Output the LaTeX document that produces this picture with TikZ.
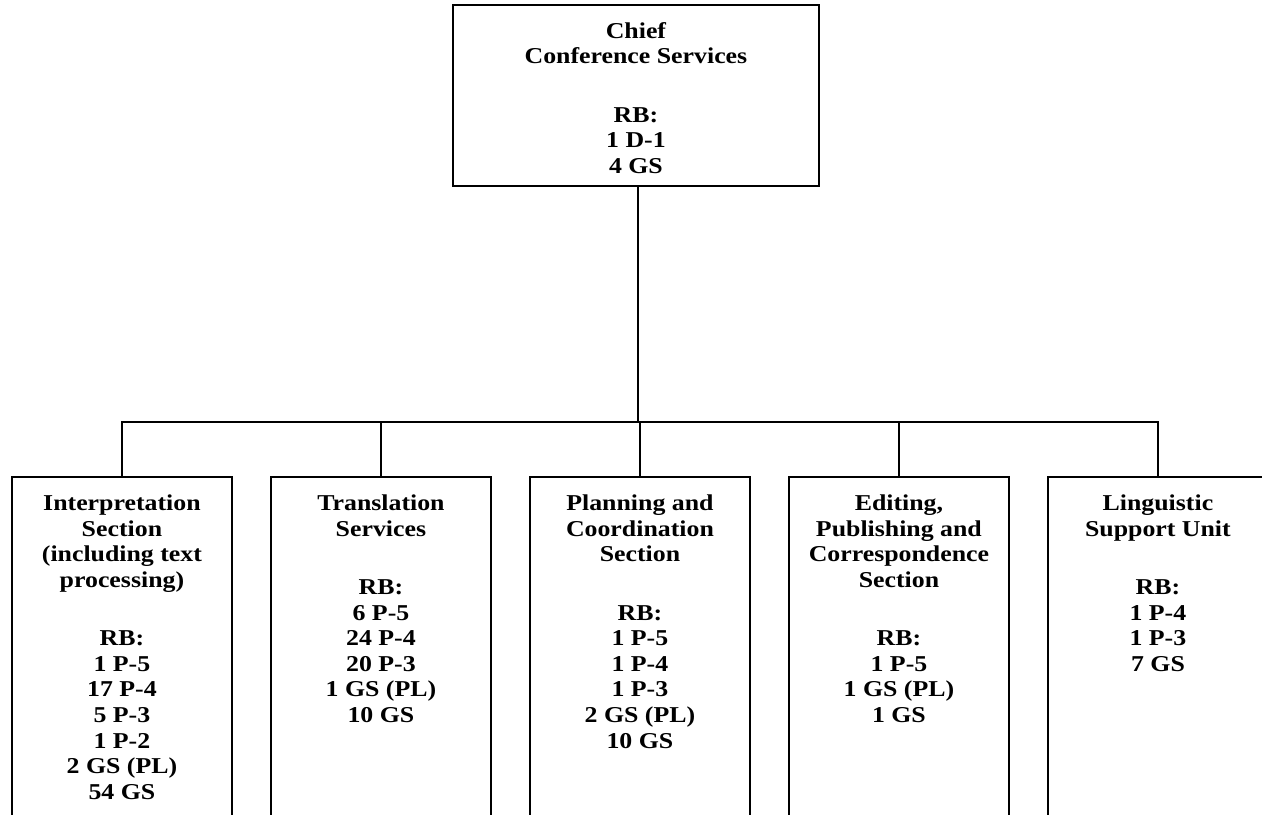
\documentclass[tikz,border=0pt]{standalone}
\usepackage{fontspec}
\setmainfont{Liberation Serif}
\newfontfamily\orgfont{Liberation Serif}[FakeStretch=1.14]
\begin{document}
\begin{tikzpicture}[x=0.75pt,y=-0.75pt,
  line width=1.4pt,
  orgbox/.style={draw, line width=1.4pt, inner sep=0pt, anchor=north west},
  lowbox/.style={orgbox, minimum width=165pt, minimum height=300pt},
  orgtext/.style={anchor=north, align=center, inner sep=0pt,
    font=\orgfont\bfseries\fontsize{17}{19.2}\selectfont},
  link/.style={draw, line width=1.4pt}]
\useasboundingbox (0,0) rectangle (1262,814);
\fill[white] (0,0) rectangle (1262,814);
\clip (0,0) rectangle (1262,814);

% top box
\node[orgbox, minimum width=274.5pt, minimum height=135.75pt] (top) at (452,4) {};
\node[orgtext] (ttop) at ([yshift=-13pt]top.north) {Chief\\Conference Services\\[24.5pt]RB:\\1 D-1\\4 GS};

% lower boxes
\node[lowbox] (b1) at (11,476) {};
\node[lowbox] (b2) at (270,476) {};
\node[lowbox] (b3) at (529,476) {};
\node[lowbox] (b4) at (788,476) {};
\node[lowbox] (b5) at (1047,476) {};

\node[orgtext] (t1) at ([yshift=-13.5pt]b1.north) {Interpretation\\Section\\(including text\\processing)\\[24.5pt]RB:\\1 P-5\\17 P-4\\5 P-3\\1 P-2\\2 GS (PL)\\54 GS};
\node[orgtext] (t2) at ([yshift=-13.5pt]b2.north) {Translation\\Services\\[24.5pt]RB:\\6 P-5\\24 P-4\\20 P-3\\1 GS (PL)\\10 GS};
\node[orgtext] (t3) at ([yshift=-13.5pt]b3.north) {Planning and\\Coordination\\Section\\[24.5pt]RB:\\1 P-5\\1 P-4\\1 P-3\\2 GS (PL)\\10 GS};
\node[orgtext] (t4) at ([yshift=-13.5pt]b4.north) {Editing,\\Publishing and\\Correspondence\\Section\\[24.5pt]RB:\\1 P-5\\1 GS (PL)\\1 GS};
\node[orgtext] (t5) at ([yshift=-13.5pt]b5.north) {Linguistic\\Support Unit\\[24.5pt]RB:\\1 P-4\\1 P-3\\7 GS};

% connectors
\coordinate (bus) at (638,422);
\draw[link] (top.south -| bus) -- (bus);
\draw[link] (b1.north) -- (b1.north |- bus) -- (b5.north |- bus) -- (b5.north);
\draw[link] (b2.north) -- (b2.north |- bus);
\draw[link] (b3.north) -- (b3.north |- bus);
\draw[link] (b4.north) -- (b4.north |- bus);
\end{tikzpicture}
\end{document}
